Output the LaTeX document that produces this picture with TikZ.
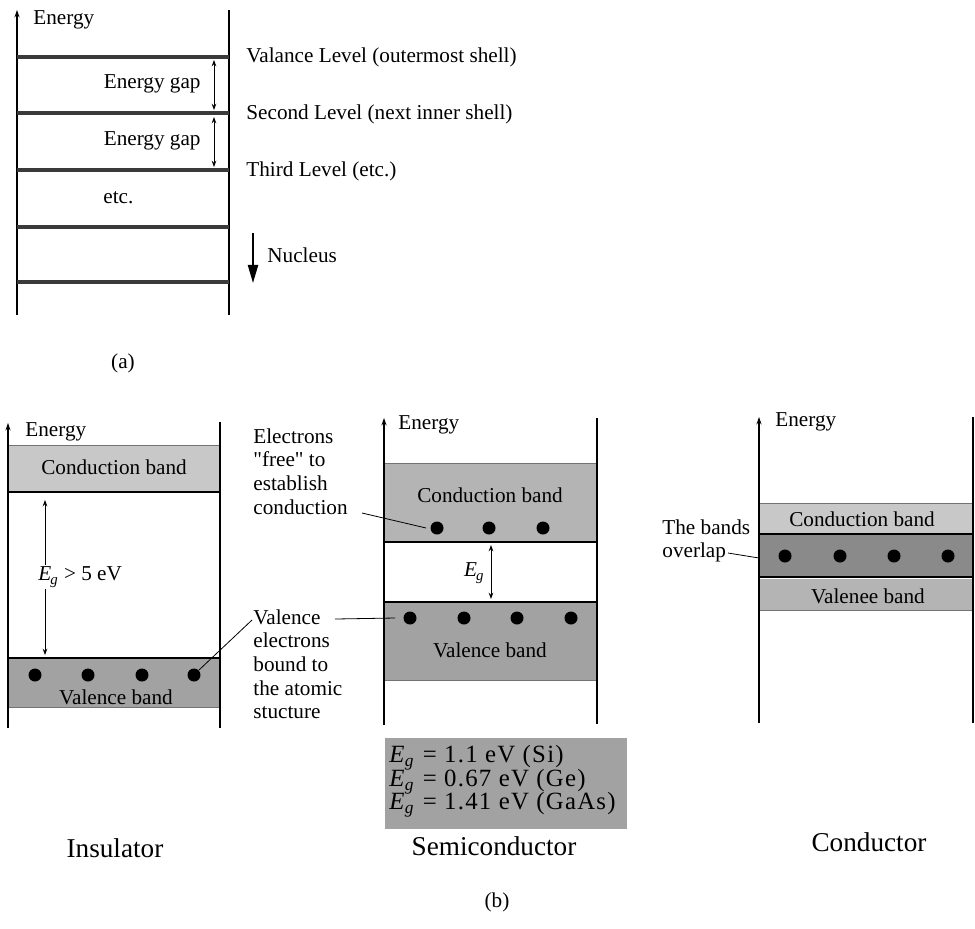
\documentclass[tikz,border=0pt]{standalone}
\usepackage{fontspec}
\setmainfont{Liberation Serif}
\newfontfamily\egfont[LetterSpace=5]{Liberation Serif}
\usetikzlibrary{arrows.meta,positioning,calc}
\definecolor{lightb}{HTML}{C8C8C8}
\definecolor{midb}{HTML}{B4B4B4}
\definecolor{darkb}{HTML}{A2A2A2}
\definecolor{ovlb}{HTML}{8A8A8A}
\definecolor{lvlc}{HTML}{3A3A3A}
\newcommand{\Eg}{\textit{E}\textsubscript{\kern-.5pt\textit{g}}}
\tikzset{
  ax/.style={-{Stealth[length=1.3mm,width=0.9mm]},semithick},
  wall/.style={semithick},
  lvl/.style={line width=2pt,lvlc},
  gaparr/.style={{Stealth[length=1.1mm,width=0.8mm]}-{Stealth[length=1.1mm,width=0.8mm]},thin},
  nuc/.style={-{Triangle[length=3.2mm,width=1.8mm]},line width=0.9pt},
  rim/.style={black!55,thin},
  edge/.style={line width=1.1pt},
  dot/.style={circle,fill=black,inner sep=0pt,minimum size=6.5pt},
  lead/.style={thin},
  lbl/.style={font=\fontsize{10.6}{11.85}\selectfont,inner sep=0pt},
  big/.style={font=\fontsize{13.6}{15}\selectfont,inner sep=0pt},
  egrow/.style={font=\egfont\fontsize{12.4}{13}\selectfont,inner sep=0pt,anchor=west}
}
\begin{document}
\begin{tikzpicture}[x=0.5pt,y=-0.5pt]
\useasboundingbox (0,0) rectangle (975,928);
% (a) levels of one atom
\draw[ax] (17,315) -- (17,10);
\draw[wall] (229,10) -- (229,315);
\foreach \y in {57,113,170,227,282}
  \draw[lvl] (17,\y) -- (229,\y);
\node[lbl,anchor=west] (enA) at (33,20) {Energy};
\node[lbl,anchor=east] (gapA) at (201,84) {Energy gap};
\node[lbl,anchor=east] (gapB) at (201,141) {Energy gap};
\node[lbl,anchor=west] (etcA) at (103,198) {etc.};
\draw[gaparr] (214,60) -- (214,110);
\draw[gaparr] (214,117) -- (214,167);
\node[lbl,anchor=west] (valA) at (246,57) {Valance Level (outermost shell)};
\node[lbl,anchor=west] (secA) at (246,114) {Second Level (next inner shell)};
\node[lbl,anchor=west] (thrA) at (246,171) {Third Level (etc.)};
\draw[nuc] (253,233) -- (253,283);
\node[lbl,anchor=west] (nucA) at (267,255) {Nucleus};
\node[lbl] (capA) at (123,363) {(a)};

% (b) insulator
\fill[lightb] (8,445) rectangle (220,492);
\fill[darkb] (8,658) rectangle (220,707);
\draw[rim] (8,445) -- (220,445);
\draw[rim] (8,707) -- (220,707);
\draw[edge] (8,492) -- (220,492);
\draw[edge] (8,658) -- (220,658);
\draw[ax] (8,728) -- (8,423);
\draw[wall] (220,422) -- (220,728);
\node[lbl,anchor=west] (enI) at (25,432) {Energy};
\node[lbl] (cbI) at (114,467) {Conduction band};
\node[lbl] (vbI) at (116,697) {Valence band};
\foreach \x [count=\i] in {35,88,142,194}
  \node[dot] (vI\i) at (\x,675) {};
\draw[gaparr] (45,500) -- (45,655);
\node[lbl,anchor=west,fill=white,inner sep=1pt] (egI) at (36,577) {\Eg{} > 5 eV};

% (b) semiconductor
\fill[midb] (384,463) rectangle (597,542);
\fill[darkb] (384,602) rectangle (597,680);
\draw[rim] (384,463) -- (597,463);
\draw[rim] (384,680) -- (597,680);
\draw[edge] (384,542) -- (597,542);
\draw[edge] (384,602) -- (597,602);
\draw[ax] (384,725) -- (384,418);
\draw[wall] (597,418) -- (597,724);
\node[lbl,anchor=west] (enS) at (398,425) {Energy};
\node[lbl] (cbS) at (490,495) {Conduction band};
\node[lbl] (vbS) at (490,650) {Valence band};
\foreach \x [count=\i] in {437,489,543}
  \node[dot] (sC\i) at (\x,528) {};
\foreach \x [count=\i] in {410,464,517,571}
  \node[dot] (sV\i) at (\x,618) {};
\draw[gaparr] (491,545) -- (491,599);
\node[lbl,anchor=east] (egS) at (485,573) {\Eg};
\fill[darkb] (385,738) rectangle (627,829);
\node[egrow] (egSi) at (389,758) {\Eg{} = 1.1 eV (Si)};
\node[egrow] (egGe) at (389,782) {\Eg{} = 0.67 eV (Ge)};
\node[egrow] (egGa) at (389,805) {\Eg{} = 1.41 eV (GaAs)};

% (b) conductor
\fill[lightb] (759,503) rectangle (973,534);
\fill[ovlb] (759,534) rectangle (973,577);
\fill[midb] (759,579) rectangle (973,610);
\draw[rim] (759,503) -- (973,503);
\draw[rim] (759,610) -- (973,610);
\draw[edge] (759,534) -- (973,534);
\draw[edge] (759,577) -- (973,577);
\draw[ax] (759,723) -- (759,417);
\draw[wall] (973,417) -- (973,723);
\node[lbl,anchor=west] (enC) at (775,422) {Energy};
\node[lbl] (cbC) at (862,519) {Conduction band};
\node[lbl] (vbC) at (868,596) {Valenee band};
\foreach \x [count=\i] in {785,840,894,948}
  \node[dot] (oC\i) at (\x,556) {};

% side notes and leaders
\node[lbl,anchor=north west,align=left] (freeL) at (253,428) {Electrons\\\textquotedbl free\textquotedbl{} to\\establish\\conduction};
\node[lbl,anchor=north west,align=left] (boundL) at (253,609) {Valence\\electrons\\bound to\\the atomic\\stucture};
\node[lbl,anchor=north west,align=left] (ovlL) at (662,519) {The bands\\overlap};
\coordinate (freeE) at (362,513);
\coordinate (boundE) at (335,619);
\coordinate (boundW) at (252,620);
\coordinate (ovlE) at (728,553);
\coordinate (ovlT) at (759,558);
\draw[lead] (freeE) -- ([xshift=-2pt]sC1.west);
\draw[lead] (boundE) -- ([xshift=-4pt]sV1.west);
\draw[lead] (boundW) -- (vI4.north east);
\draw[lead] (ovlE) -- (ovlT);

% captions
\node[big] (insL) at (115,848) {Insulator};
\node[big] (semL) at (494,846) {Semiconductor};
\node[big] (conL) at (869,842) {Conductor};
\node[lbl] (capB) at (497,902) {(b)};
\end{tikzpicture}
\end{document}
